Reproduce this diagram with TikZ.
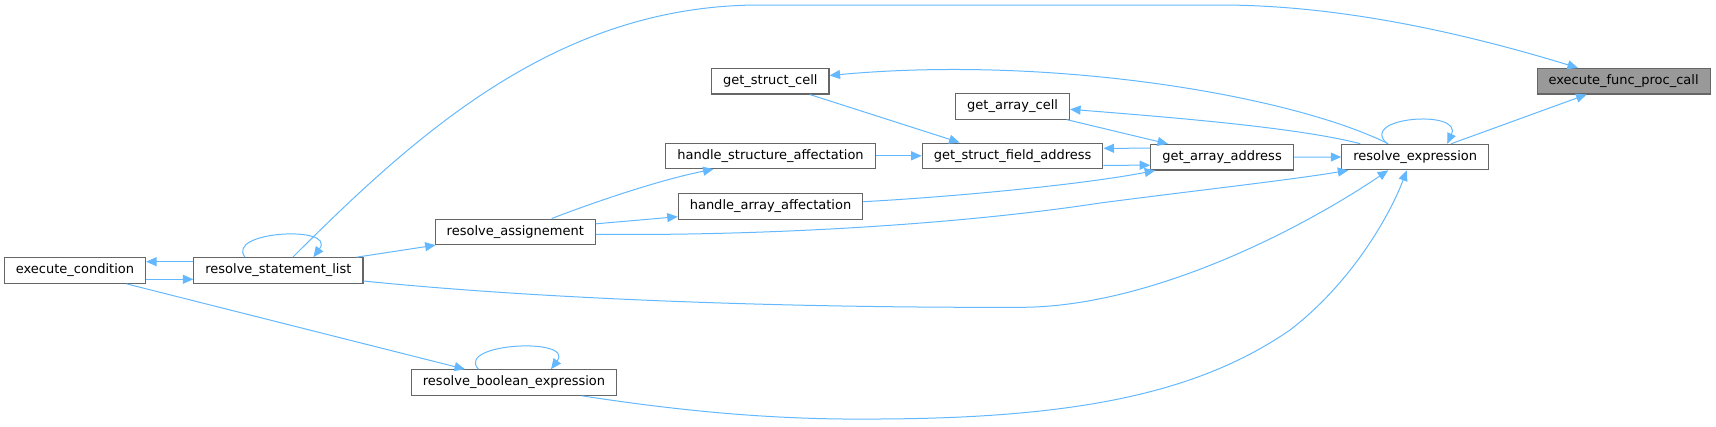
\documentclass[tikz,border=0pt]{standalone}
\usepackage{fontspec}
\setmainfont{DejaVu Sans}
\usetikzlibrary{arrows.meta,calc}
\definecolor{edgeblue}{HTML}{63B8FF}
\definecolor{boxgray}{HTML}{666666}
\definecolor{curgray}{HTML}{999999}

\begin{document}
\begin{tikzpicture}[
    x=1pt, y=-1pt,
    fnbox/.style={draw=boxgray, fill=white, line width=1.1pt, font=\fontsize{13}{15}\selectfont, minimum height=25.5pt, inner xsep=11.5pt, inner ysep=0pt, text height=9.5pt, text depth=2.7pt},
    curfn/.style={fnbox, fill=curgray},
    call/.style={-{Triangle[length=10.5pt,width=9pt]}, draw=edgeblue, line width=1pt}
]
\useasboundingbox (0,0) rectangle (1716,426);

% function boxes
\node[curfn] (funccall) at (1623.6,81.2) {execute\_func\_proc\_call};
\node[fnbox] (resexpr) at (1415.2,157) {resolve\_expression};
\node[fnbox] (arraddr) at (1222,157.2) {get\_array\_address};
\node[fnbox] (arrcell) at (1012.6,106.3) {get\_array\_cell};
\node[fnbox] (fieldaddr) at (1012.6,155.8) {get\_struct\_field\_address};
\node[fnbox] (structcell) at (770.3,81.2) {get\_struct\_cell};
\node[fnbox] (structaff) at (770.5,155.8) {handle\_structure\_affectation};
\node[fnbox] (arraff) at (770.5,206.3) {handle\_array\_affectation};
\node[fnbox] (resassign) at (515.3,231.8) {resolve\_assignement};
\node[fnbox] (stmtlist) at (278.4,270.5) {resolve\_statement\_list};
\node[fnbox] (execcond) at (75,270.5) {execute\_condition};
\node[fnbox] (boolexpr) at (514,382.5) {resolve\_boolean\_expression};

% calls into execute_func_proc_call
\draw[call] ($(stmtlist.north)+(14.4,0)$) .. controls (420,130) and (560,5) .. (760,5) -- (1220,5) .. controls (1350,5) and (1480,38) .. ($(funccall.north)+(-45.6,0)$);
\draw[call] ($(resexpr.north)+(36,0)$) -- ($(funccall.south)+(-37,0)$);

% resolve_expression
\draw[call] ($(resexpr.north)+(-28,0)$) .. controls (1357,117) and (1463,109) .. ($(resexpr.north)+(32,0)$);
\draw[call] ($(resexpr.north)+(-27,0)$) .. controls (1290,95) and (1050,55) .. ($(structcell.east)+(0,-5.7)$);
\draw[call] ($(resexpr.north)+(-55,0)$) .. controls (1300,128) and (1180,118) .. ($(arrcell.east)+(0,3)$);

% get_array_address and get_struct_field_address
\draw[call] (arraddr.east) -- (resexpr.west);
\draw[call] ($(arrcell.south)+(54,0)$) -- ($(arraddr.north)+(-54,0)$);
\draw[call] ($(arraddr.west)+(0,-9)$) -- ($(fieldaddr.east)+(0,-7.5)$);
\draw[call] ($(fieldaddr.east)+(0,9.5)$) -- ($(arraddr.west)+(0,8)$);
\draw[call] ($(structcell.south)+(39.4,0)$) -- ($(fieldaddr.north)+(-53,0)$);
\draw[call] (structaff.east) -- (fieldaddr.west);
\draw[call] ($(arraff.east)+(0,-4.6)$) .. controls (950,197) and (1080,185) .. ($(arraddr.south west)+(5,0)$);

% resolve_assignement
\draw[call] ($(resassign.north)+(36.4,0)$) .. controls (600,200) and (660,180) .. ($(structaff.south)+(-57,0)$);
\draw[call] ($(resassign.east)+(0,-8)$) -- ($(arraff.west)+(0,10.4)$);
\draw[call] ($(resassign.east)+(0,2.5)$) .. controls (750,236) and (950,226) .. (1100,203) .. controls (1200,190) and (1290,180) .. ($(resexpr.south west)+(7,0)$);

% resolve_statement_list
\draw[call] ($(stmtlist.north east)+(-7,0)$) -- ($(resassign.south west)+(1,0)$);
\draw[call] ($(stmtlist.north)+(-33.4,0)$) .. controls (225,231) and (337,225) .. ($(stmtlist.north)+(35,0)$);
\draw[call] ($(stmtlist.west)+(0,-8.8)$) -- ($(execcond.east)+(0,-8.8)$);
\draw[call] ($(execcond.east)+(0,8.8)$) -- ($(stmtlist.west)+(0,8.8)$);
\draw[call] ($(stmtlist.east)+(0,10.5)$) .. controls (550,300) and (800,308) .. (1021,307.3) .. controls (1150,307) and (1300,230) .. ($(resexpr.south)+(-27,0)$);

% resolve_boolean_expression
\draw[call] ($(execcond.south)+(51.3,0)$) -- ($(boolexpr.north)+(-49,0)$);
\draw[call] ($(boolexpr.north)+(-35.6,0)$) .. controls (455,343) and (575,337) .. ($(boolexpr.north)+(37,0)$);
\draw[call] ($(boolexpr.south)+(67.7,0)$) .. controls (700,414) and (790,420) .. (880,419) .. controls (1080,418) and (1200,392) .. (1290,330) .. controls (1355,280) and (1392,210) .. ($(resexpr.south)+(-8.5,0)$);

\end{tikzpicture}
\end{document}
